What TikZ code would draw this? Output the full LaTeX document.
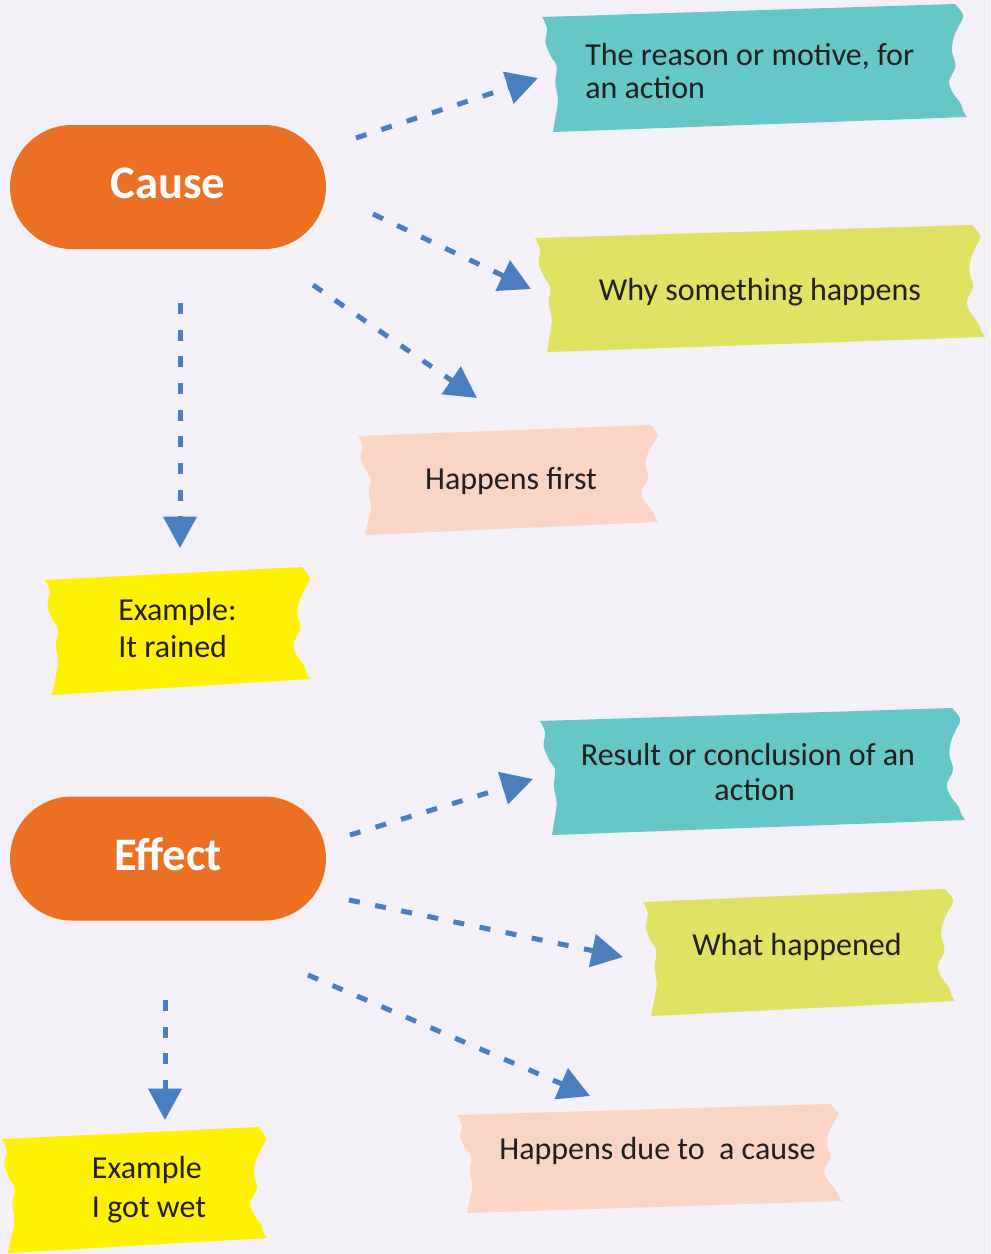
\documentclass[tikz,border=0pt]{standalone}
\usepackage{fontspec}
\setmainfont{Carlito}
\usetikzlibrary{arrows.meta}
\definecolor{bgc}{HTML}{F3F0F7}
\definecolor{pillc}{HTML}{EC7125}
\definecolor{tealc}{HTML}{66C7C9}
\definecolor{ygc}{HTML}{E1E163}
\definecolor{peachc}{HTML}{FBD5C4}
\definecolor{yelc}{HTML}{FFF200}
\definecolor{arrc}{HTML}{4A7EBF}
\definecolor{txtc}{HTML}{231F20}
% torn paper strip: colour, TL, TR, BR, BL (pixel units, y down)
\newcommand\tornstrip[9]{%
\fill[#1] (#2,#3) -- (#4,#5)
 -- plot[smooth,tension=0.55] coordinates {
   (#4,#5)
   ({#4+0.10*(#6-#4)+7},{#5+0.10*(#7-#5)})
   ({#4+0.20*(#6-#4)+1},{#5+0.20*(#7-#5)})
   ({#4+0.30*(#6-#4)-5},{#5+0.30*(#7-#5)})
   ({#4+0.42*(#6-#4)-8},{#5+0.42*(#7-#5)})
   ({#4+0.55*(#6-#4)-6},{#5+0.55*(#7-#5)})
   ({#4+0.68*(#6-#4)-14},{#5+0.68*(#7-#5)})
   ({#4+0.78*(#6-#4)-12},{#5+0.78*(#7-#5)})
   ({#4+0.88*(#6-#4)-5},{#5+0.88*(#7-#5)})
   ({#4+0.95*(#6-#4)-3},{#5+0.95*(#7-#5)})
   (#6,#7)}
 -- (#8,#9)
 -- plot[smooth,tension=0.55] coordinates {
   (#8,#9)
   ({#8+0.10*(#2-#8)+3},{#9+0.10*(#3-#9)})
   ({#8+0.28*(#2-#8)+8},{#9+0.28*(#3-#9)})
   ({#8+0.43*(#2-#8)+7},{#9+0.43*(#3-#9)})
   ({#8+0.57*(#2-#8)+10},{#9+0.57*(#3-#9)})
   ({#8+0.66*(#2-#8)+5},{#9+0.66*(#3-#9)})
   ({#8+0.78*(#2-#8)+1},{#9+0.78*(#3-#9)})
   ({#8+0.90*(#2-#8)+4},{#9+0.90*(#3-#9)})
   (#2,#3)}
 -- cycle;}
\tikzset{
  pill/.style={fill=pillc, rounded corners=46.5pt, minimum width=237pt,
    minimum height=93pt, inner sep=0pt, text=white,
    font=\bfseries\fontsize{35}{40}\selectfont, text height=22pt, text depth=4.75pt},
  txt/.style={text=txtc, inner sep=0pt, font=\fontsize{24}{26}\selectfont},
  arr/.style={draw=arrc, line width=3.75pt, dash pattern=on 8.25pt off 11.75pt,
    -{Triangle[length=23.5pt,width=24.5pt]}}
}
\begin{document}
\begin{tikzpicture}[x=0.75pt,y=-0.75pt]
\useasboundingbox (0,0) rectangle (990,1254);
\fill[bgc] (0,0) rectangle (990,1254);

% pills
\node[pill] (cause) at (168,187) {Cause};
\node[pill] (effect) at (168,858.5) {Effect};

% torn strips
\tornstrip{tealc}{542}{17}{955}{4}{967}{117}{553}{132}
\tornstrip{ygc}{535}{238}{972}{225}{985}{337}{547}{352}
\tornstrip{peachc}{358}{436}{650}{425}{658}{522}{365}{535}
\tornstrip{yelc}{45}{580}{302}{567}{310}{679}{52}{695}
\tornstrip{tealc}{540}{721}{952}{708}{965}{820}{552}{835}
\tornstrip{ygc}{643}{902}{945}{889}{955}{1001}{651}{1016}
\tornstrip{peachc}{457}{1115}{830}{1104}{842}{1201}{467}{1213}
\tornstrip{yelc}{2}{1139}{258}{1127}{267}{1238}{8}{1253}

% texts (base anchor of two-line nodes = last line's baseline)
\node[txt, anchor=base west, align=left, font=\fontsize{24}{24.75}\selectfont] (t1) at (585,98) {The reason or motive, for\\an action};
\node[txt, anchor=base] (t2) at (760,300) {Why something happens};
\node[txt, anchor=base] (t3) at (511,489) {Happens first};
\node[txt, anchor=base west, align=left, font=\fontsize{24}{27.75}\selectfont] (t4) at (118,657) {Example:\\It rained};
\node[txt, anchor=base, align=center, font=\fontsize{24}{26.25}\selectfont] (t5) at (748,800) {Result or conclusion of an\\\hspace*{10pt}action};
\node[txt, anchor=base] (t6) at (797,955) {What happened};
\node[txt, anchor=base] (t7) at (657.5,1159) {Happens due to\ \ a cause};
\node[txt, anchor=base west, align=left, font=\fontsize{24}{29.25}\selectfont] (t8) at (91.7,1217) {Example\\I got wet};

% connector end points
\coordinate (a1s) at (356,138);  \coordinate (a1e) at (538,78);
\coordinate (a2s) at (373,214);  \coordinate (a2e) at (531,289);
\coordinate (a3s) at (313,285);  \coordinate (a3e) at (477,398);
\coordinate (a4s) at (180,303);  \coordinate (a4e) at (180,548);
\coordinate (a5s) at (350,835);  \coordinate (a5e) at (533,779);
\coordinate (a6s) at (349,900);  \coordinate (a6e) at (623,957);
\coordinate (a7s) at (308,975);  \coordinate (a7e) at (590,1096);
\coordinate (a8s) at (165,1000); \coordinate (a8e) at (165,1120);

\draw[arr] (a1s) -- (a1e);
\draw[arr] (a2s) -- (a2e);
\draw[arr] (a3s) -- (a3e);
\draw[arr] (a4s) -- (a4e);
\draw[arr] (a5s) -- (a5e);
\draw[arr] (a6s) -- (a6e);
\draw[arr] (a7s) -- (a7e);
\draw[arr] (a8s) -- (a8e);
\end{tikzpicture}
\end{document}
